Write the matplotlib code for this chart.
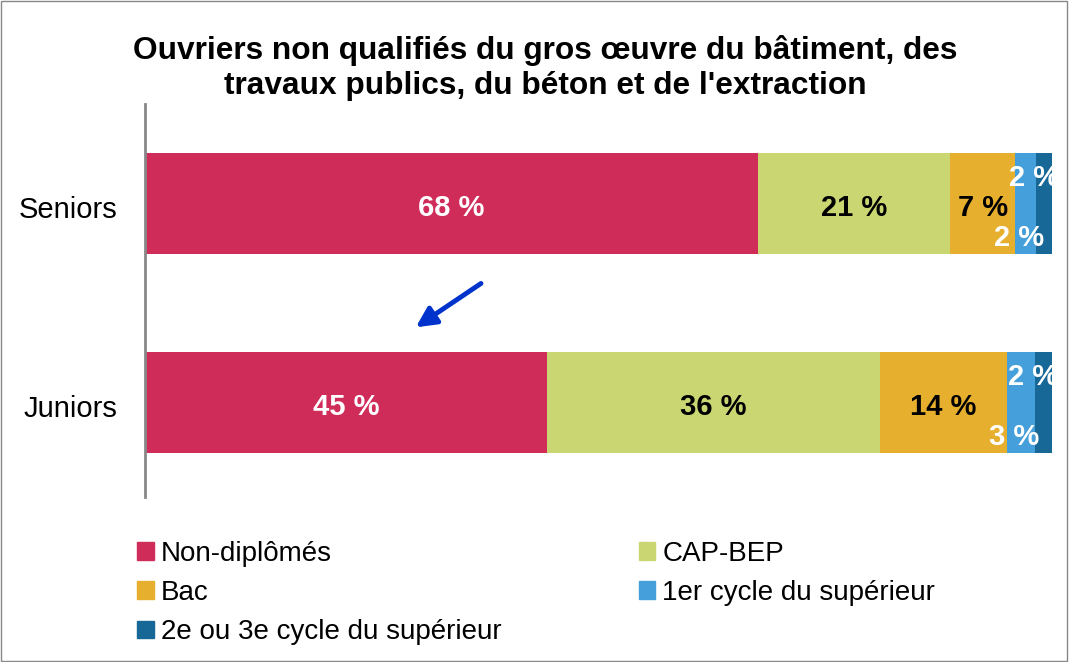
import matplotlib.pyplot as plt
from matplotlib.patches import Patch, Rectangle

plt.rcParams['font.family'] = ['Liberation Sans', 'DejaVu Sans']

groups = ['Juniors', 'Seniors']
series = ['Non-diplômés', 'CAP-BEP', 'Bac', '1er cycle du supérieur',
          '2e ou 3e cycle du supérieur']
colors = ['#D02C5A', '#C9D672', '#E6AF2E', '#459FDA', '#176897']
# values per series, order: Juniors, Seniors
non_dipl = [44.3, 67.6]
cap_bep = [36.7, 21.2]
bac = [14.0, 7.1]
cycle1 = [3.1, 2.3]
cycle23 = [1.9, 1.8]
shown = {'Juniors': [45, 36, 14, 3, 2], 'Seniors': [68, 21, 7, 2, 2]}
values = [non_dipl, cap_bep, bac, cycle1, cycle23]

fig = plt.figure(figsize=(10.69, 6.62), dpi=100)
ax = fig.add_axes([145/1069, 1-497/662, 907/1069, 393/662])

ypos = [0, 1]
left = [0, 0]
txtcol = ['white', 'black', 'black', 'white', 'white']
for i, vals in enumerate(values):
    ax.barh(ypos, vals, left=left, height=0.51, color=colors[i])
    for j, g in enumerate(groups):
        cx = left[j] + vals[j] / 2
        lab = f"{shown[g][i]} %"
        if i < 3:
            ax.text(cx, ypos[j] - 0.025, lab, ha='center', va='center',
                    color=txtcol[i], fontsize=21, fontweight='bold')
        elif i == 3:
            ax.text(cx - 0.7, ypos[j] - 0.175, lab, ha='center', va='center',
                    color='white', fontsize=21, fontweight='bold', clip_on=True)
        else:
            ax.text(cx - 1.1, ypos[j] + 0.13, lab, ha='center', va='center',
                    color='white', fontsize=21, fontweight='bold', clip_on=True)
    left = [left[k] + vals[k] for k in range(2)]

ax.set_xlim(0, 100)
ax.set_ylim(-0.475, 1.5)
ax.set_yticks([y - 0.02 for y in ypos])
ax.set_yticklabels(groups, fontsize=21)
ax.tick_params(axis='y', length=0, pad=20)
ax.set_xticks([])
for s in ['top', 'right', 'bottom']:
    ax.spines[s].set_visible(False)
ax.spines['left'].set_color('#888888')
ax.spines['left'].set_linewidth(2)

ax.annotate('', xy=(29.6, 0.37), xytext=(37.3, 0.606),
            arrowprops=dict(arrowstyle='-|>,head_length=1.2,head_width=0.6',
                            color='#0033CC', lw=3.5))

fig.text(0.51, 1-68/662, "Ouvriers non qualifiés du gros œuvre du bâtiment, des\n"
         "travaux publics, du béton et de l'extraction",
         ha='center', va='center', fontsize=22.8, fontweight='bold',
         linespacing=1.25)

handles = [Patch(color=c) for c in colors]
order = [0, 2, 4, 1, 3]
fig.legend([handles[k] for k in order], [series[k] for k in order],
           loc='upper left', bbox_to_anchor=(137/1069, 1-541/662), ncol=2,
           frameon=False, fontsize=20, handlelength=0.6, handleheight=0.6,
           handletextpad=0.25, labelspacing=0.47, columnspacing=4.95,
           borderaxespad=0, borderpad=0)

fig.patches.append(Rectangle((0.001, 0.001), 0.997, 0.997, transform=fig.transFigure,
                             fill=False, edgecolor='#888888', lw=1))

fig.savefig('out.png', dpi=100)
